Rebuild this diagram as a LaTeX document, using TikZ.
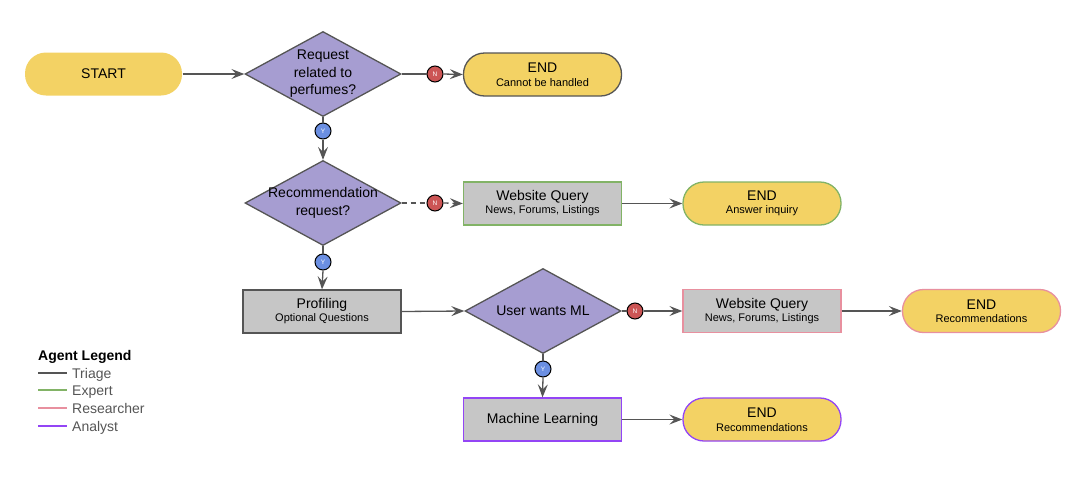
\documentclass[tikz,border=0pt]{standalone}
\usepackage{fontspec}
\setmainfont{Liberation Sans}
\usetikzlibrary{shapes.geometric,arrows.meta}
\definecolor{yel}{HTML}{F3D264}
\definecolor{purp}{HTML}{A69DD1}
\definecolor{gbox}{HTML}{C6C6C6}
\definecolor{dgray}{HTML}{555555}
\definecolor{ggreen}{HTML}{82B366}
\definecolor{gpink}{HTML}{E8909F}
\definecolor{gviolet}{HTML}{9345F5}
\definecolor{nred}{HTML}{CC5555}
\definecolor{yblue}{HTML}{6B8FE2}
\newcommand{\fsz}[2]{\fontsize{#1}{#2}\selectfont}
\tikzset{
  base/.style={line width=1.3pt, inner sep=0pt, align=center, text=black},
  startbox/.style={base, fill=yel, rounded corners=21pt, minimum width=157pt, minimum height=43pt},
  endbox/.style={base, fill=yel, draw=#1, rounded corners=21pt, minimum width=158pt, minimum height=43pt},
  procbox/.style={base, fill=gbox, draw=#1, minimum width=158pt, minimum height=43pt},
  decbox/.style={base, diamond, fill=purp, draw=dgray, minimum width=156pt, minimum height=85pt},
  ycirc/.style={circle, draw=black, line width=1pt, fill=yblue, minimum size=16pt, inner sep=0pt, text=white, font=\fsz{6.5}{6.5}},
  ncirc/.style={circle, draw=black, line width=1pt, fill=nred, minimum size=16pt, inner sep=0pt, text=white, font=\fsz{6.5}{6.5}},
  conn/.style={draw=dgray, line width=1.3pt},
  arr/.style={conn, -{Stealth[length=13pt,width=10pt,inset=5pt]}},
  legline/.style={line width=1.5pt},
  legtext/.style={anchor=west, inner sep=0pt, text=dgray, text height=10pt, text depth=0pt, font=\fsz{14}{14}},
}
\begin{document}
\begin{tikzpicture}[x=1pt,y=-1pt]
\useasboundingbox (0,0) rectangle (1090,480);

\node[startbox] (start) at (103.5,74) {\fsz{14}{14}START};
\node[decbox, label={[align=center,font=\fsz{14}{17.5}]center:Request\\related to\\perfumes?}] (d1) at (323,74) {};
\node[endbox=dgray] (e1) at (542.5,74.5) {\fsz{14}{15}END\\[1.5pt]\fsz{11}{15}Cannot be handled};

\node[decbox, label={[align=center,font=\fsz{14}{18}]center:Recommendation\\request?}] (d2) at (323,203) {};
\node[procbox=ggreen] (w1) at (542.5,203.5) {\fsz{14}{16}Website Query\\[1pt]\fsz{11}{16}News, Forums, Listings};
\node[endbox=ggreen] (e2) at (762,203.5) {\fsz{14}{15}END\\[1.5pt]\fsz{11}{15}Answer inquiry};

\node[procbox=dgray] (prof) at (322,311.5) {\fsz{14}{15}Profiling\\[1pt]\fsz{11}{15}Optional Questions};
\node[decbox, label={[font=\fsz{14}{14}]center:User wants ML}] (d3) at (543,311) {};
\node[procbox=gpink] (w2) at (762,311) {\fsz{14}{16}Website Query\\[1pt]\fsz{11}{16}News, Forums, Listings};
\node[endbox=gpink] (e3) at (981.5,311) {\fsz{14}{15}END\\[1.5pt]\fsz{11}{15}Recommendations};

\node[procbox=gviolet] (ml) at (542.5,419.5) {\fsz{14}{14}Machine Learning};
\node[endbox=gviolet] (e4) at (762,419.5) {\fsz{14}{15}END\\[1.5pt]\fsz{11}{15}Recommendations};

% decision markers
\node[ncirc] (n1) at (435,74) {N};
\node[ycirc] (y1) at (323,131) {Y};
\node[ncirc] (n2) at (435,203) {N};
\node[ycirc] (y2) at (323,262) {Y};
\node[ncirc] (n3) at (635,311) {N};
\node[ycirc] (y3) at (543,369) {Y};

% connectors
\draw[arr] (start.east) -- (d1.west);
\draw[conn] (d1.east) -- (n1.west);
\draw[arr] (n1.east) -- (e1.west);
\draw[conn] (d1.south) -- (y1.north);
\draw[arr] (y1.south) -- (d2.north);
\draw[conn, dash pattern=on 5pt off 4pt] (d2.east) -- (n2.west);
\draw[arr, dash pattern=on 5pt off 4pt] (n2.east) -- (w1.west);
\draw[arr] (w1.east) -- (e2.west);
\draw[conn] (d2.south) -- (y2.north);
\draw[arr] (y2.south) -- (prof.north);
\draw[arr] (prof.east) -- (d3.west);
\draw[conn] (d3.east) -- (n3.west);
\draw[arr] (n3.east) -- (w2.west);
\draw[arr] (w2.east) -- (e3.west);
\draw[conn] (d3.south) -- (y3.north);
\draw[arr] (y3.south) -- (ml.north);
\draw[arr] (ml.east) -- (e4.west);

% legend
\node[anchor=west, inner sep=0pt, text height=10pt, text depth=0pt, font=\fsz{14}{14}\bfseries] (legtitle) at (38,355) {Agent Legend};
\draw[legline, draw=dgray] (38,373) -- (67,373);
\node[legtext] (lt1) at (72,373) {Triage};
\draw[legline, draw=ggreen] (38,390) -- (67,390);
\node[legtext] (lt2) at (72,390) {Expert};
\draw[legline, draw=gpink] (38,408) -- (67,408);
\node[legtext] (lt3) at (72,408) {Researcher};
\draw[legline, draw=gviolet] (38,426) -- (67,426);
\node[legtext] (lt4) at (72,426) {Analyst};
\end{tikzpicture}
\end{document}
